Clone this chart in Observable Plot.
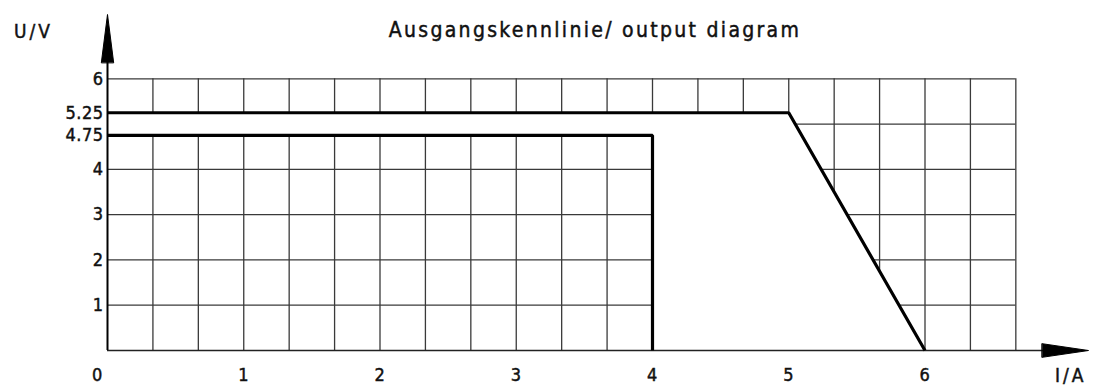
<!DOCTYPE html>
<html><head><meta charset="utf-8">
<script src="https://cdn.jsdelivr.net/npm/d3@7"></script>
<script src="https://cdn.jsdelivr.net/npm/@observablehq/plot@0.6"></script>
<style>
html,body{margin:0;padding:0;background:#fff;}
svg text{font-family:"DejaVu Sans Condensed","Liberation Sans Narrow","DejaVu Sans",sans-serif;}
</style>
</head><body><div id="chart"></div>
<script>
// Data
const titleText = "Ausgangskennlinie/ output diagram";
const yAxisLabel = "U/V";
const xAxisLabel = "I/A";
const xTicks = [1, 2, 3, 4, 5, 6];
const xTickLabels = ["1", "2", "3", "4", "5", "6"];
const yTicks = [1, 2, 3, 4, 4.75, 5.25, 6];
const yTickLabels = ["1", "2", "3", "4", "4.75", "5.25", "6"];
const originLabel = ["0"];
const gridX = d3.range(1, 21).map(k => k / 3); // every 1/3 A up to 6.67
const gridY = [1, 2, 3, 4, 5, 6];
const gridMaxX = 20 / 3;
const gridMaxY = 6;
const axisMaxX = 7.2;
const axisMaxY = 7.42;
// output characteristic lines
const curveHigh = [{x: 0, y: 5.25}, {x: 5, y: 5.25}, {x: 6, y: 0}];
const curveLow = [{x: 0, y: 4.75}, {x: 4, y: 4.75}, {x: 4, y: 0}];
// region between the curves (no grid drawn there)
const blankRegion = [{x: 0, y: 4.75}, {x: 4, y: 4.75}, {x: 4, y: 0}, {x: 6, y: 0}, {x: 5, y: 5.25}, {x: 0, y: 5.25}];
// arrow heads (data units)
const yArrowHead = [{x: -0.045, y: 6.36}, {x: 0, y: axisMaxY}, {x: 0.045, y: 6.36}];
const xArrowHead = [{x: 6.86, y: -0.15}, {x: axisMaxX, y: 0}, {x: 6.86, y: 0.15}];

const gridColor = "#3a3a3a";
const ink = "#111";

const chart = Plot.plot({
  width: 1093,
  height: 385,
  marginLeft: 107,
  marginRight: 5,
  marginTop: 14,
  marginBottom: 35,
  x: {domain: [0, axisMaxX], axis: null},
  y: {domain: [0, axisMaxY], axis: null},
  marks: [
    Plot.ruleX(gridX, {x: d => d, y1: 0, y2: gridMaxY, stroke: gridColor, strokeWidth: 1.3}),
    Plot.ruleY(gridY, {y: d => d, x1: 0, x2: gridMaxX, stroke: gridColor, strokeWidth: 1.3}),
    Plot.line(blankRegion, {x: "x", y: "y", fill: "white", stroke: "none", curve: "linear-closed"}),
    // axes
    Plot.ruleY([0], {x1: 0, x2: 6.9, stroke: "#222", strokeWidth: 1.6}),
    Plot.ruleX([0], {y1: 0, y2: 6.4, stroke: "#000", strokeWidth: 2}),
    Plot.line(yArrowHead, {x: "x", y: "y", fill: "black", stroke: "black", strokeWidth: 1, curve: "linear-closed"}),
    Plot.line(xArrowHead, {x: "x", y: "y", fill: "black", stroke: "black", strokeWidth: 1, curve: "linear-closed"}),
    // curves
    Plot.line(curveHigh, {x: "x", y: "y", stroke: "black", strokeWidth: 3.2, strokeLinejoin: "miter", strokeLinecap: "butt"}),
    Plot.line(curveLow, {x: "x", y: "y", stroke: "black", strokeWidth: 3.2, strokeLinejoin: "miter", strokeLinecap: "butt"}),
    // tick labels
    Plot.text(yTicks, {x: 0, y: d => d, text: (d, i) => yTickLabels[i], textAnchor: "end", lineAnchor: "middle", dx: -4, fill: ink}),
    Plot.text(xTicks, {x: d => d, y: 0, text: (d, i) => xTickLabels[i], lineAnchor: "middle", dy: 25, fill: ink}),
    Plot.text(originLabel, {x: 0, y: 0, text: d => d, lineAnchor: "middle", dx: -10, dy: 25, fill: ink}),
    Plot.text([xAxisLabel], {frameAnchor: "bottom-right", text: d => d, textAnchor: "end", lineAnchor: "middle", dy: 25, dx: -2, fill: ink}),
    Plot.text([yAxisLabel], {frameAnchor: "top-left", text: d => d, textAnchor: "middle", lineAnchor: "middle", dx: -74, dy: 17, fill: ink}),
    Plot.text([titleText], {frameAnchor: "top", text: d => d, textAnchor: "middle", lineAnchor: "middle", dx: -3, dy: 16, fill: ink})
  ]
});
d3.select(chart).selectAll("text").each(function() {
  const t = this.textContent;
  const s = this.style;
  s.stroke = ink;
  s.strokeWidth = "0.45px";
  if (t === titleText) { s.fontSize = "21px"; s.letterSpacing = "2.3px"; }
  else if (t === yAxisLabel || t === xAxisLabel) { s.fontSize = "19px"; s.letterSpacing = "3px"; }
  else { s.fontSize = "18px"; s.letterSpacing = "0.5px"; }
});
document.getElementById("chart").appendChild(chart);
</script>
</body></html>
